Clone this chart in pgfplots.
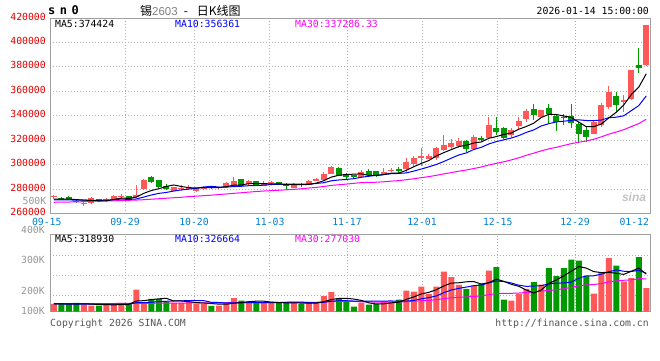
\documentclass[border=0pt]{standalone}
\usepackage{pgfplots}
\pgfplotsset{compat=1.18}
\usepackage{pgfplotstable}
\usepackage{fontspec}
\setmainfont{DejaVu Sans Mono}
\newfontfamily\cjk{Noto Sans CJK SC}
\newfontfamily\lsans{Liberation Sans}
\definecolor{cred}{RGB}{255,88,88}
\definecolor{cgreen}{RGB}{0,153,0}
\definecolor{gridc}{RGB}{175,175,175}
\definecolor{framec}{RGB}{160,160,160}
\definecolor{ylab}{RGB}{225,0,0}
\definecolor{xlab}{RGB}{0,128,210}
\definecolor{vlab}{RGB}{150,150,150}
\definecolor{cmag}{RGB}{255,0,255}
\definecolor{cblue}{RGB}{0,0,255}
\definecolor{foot}{RGB}{85,85,85}
\newcommand{\tf}{\fontsize{9.8}{10}\selectfont}

\pgfplotstableread{
i O H L C
0 273470 275350 272080 274040
4 268000 269630 266370 268570
5 268330 273220 268160 272410
7 270780 272410 269630 271840
8 272080 274860 271590 274290
9 273470 275670 272080 274530
11 273470 283260 273060 275350
12 279750 287920 279590 287350
16 278610 282040 278370 281630
17 280240 283020 278610 281060
18 279750 283510 279180 281060
19 278370 281220 277550 280570
20 280000 282690 279590 281880
22 280570 281880 280240 281630
23 281390 285470 280570 284650
24 282690 290040 282450 286770
26 283840 287350 283510 286290
28 282690 286530 282450 284080
29 284650 286770 283510 285710
32 281060 283510 280820 283260
34 283260 287100 283020 286770
35 286770 289220 286290 288410
36 287590 293630 286770 292490
37 292490 299020 292240 297960
41 290040 295510 289800 293880
44 291430 296900 291180 293630
45 294450 297390 293630 295510
47 296330 305550 293630 302280
48 300160 306690 299020 305550
49 305060 313710 299020 307180
50 304490 308320 304240 307180
51 305060 314530 303670 313220
52 311840 324080 311430 315920
53 314040 320570 312650 317790
54 315100 321390 313220 319750
56 312650 324080 311840 322690
58 321880 339020 321630 332810
61 324650 330040 321390 328160
62 331430 339020 328160 335750
63 337710 345880 334940 343920
65 339020 344490 339020 344490
72 325470 335750 325470 334940
73 332240 350450 330860 348570
74 347180 364080 345880 359430
76 351260 356730 343100 352650
77 354040 377710 353220 377140
79 381220 414000 380810 413870
}\upc

\pgfplotstableread{
i O H L C
1 272900 273710 271270 271590
2 273470 274530 271430 271590
3 270450 271020 268570 269140
6 271590 271840 269140 270200
10 274040 274290 269960 271020
13 290040 290860 284650 285710
14 287350 287750 281060 281880
15 282690 284330 278940 280240
21 282450 282690 280240 281060
25 287920 288160 281630 282690
27 286530 286530 282200 282450
30 285470 285710 283020 283260
31 283260 284900 278940 282450
33 284330 285140 281880 283260
38 297390 297710 290610 290860
39 292240 292820 287920 290040
40 291430 291670 289220 289550
42 294690 296330 290040 291430
43 294690 294690 289800 290610
46 296330 297960 293300 294450
55 319180 320000 310450 312410
57 322200 323830 319590 320000
59 330040 339020 324080 326770
60 329790 330860 320570 321390
64 345300 349390 336320 340410
66 346120 349960 333630 341220
67 339830 341220 327350 334940
68 339020 341790 332240 338200
69 339590 349960 330370 334120
70 333630 334940 317300 325470
71 328160 330860 318610 322690
75 355920 359430 343100 348570
78 381470 395340 374940 379340
}\downc

\pgfplotstableread{
i ma5 ma10 ma30
0 271800 271200 269200
1 271800 271200 269300
2 271800 271100 269400
3 271400 271000 269500
4 270986 270900 269700
5 270660 270800 270000
6 270382 270800 270200
7 270432 270900 270300
8 271462 271200 270400
9 272654 271820 270600
10 272376 271518 270800
11 273406 271894 271000
12 276508 273470 271300
13 278792 275127 271700
14 280262 276458 272100
15 282106 277241 272500
16 283362 278384 272900
17 282104 279306 273300
18 281174 279983 273800
19 280912 280587 274200
20 281240 281673 274600
21 281126 282244 275000
22 281240 281672 275500
23 281958 281566 276000
24 283198 282055 276500
25 283360 282300 277000
26 284406 282766 277500
27 284570 282905 278000
28 284456 283207 278400
29 284244 283721 278709
30 284358 283859 279017
31 283590 283998 279379
32 283752 284161 279768
33 283588 284022 280238
34 283800 284022 280845
35 284830 284594 281378
36 286838 285214 282121
37 289778 286765 282992
38 291298 287443 283544
39 291952 287876 284061
40 292180 288505 284679
41 292458 289648 285297
42 291152 290465 285433
43 291102 291200 285596
44 291820 291886 285988
45 293012 292596 286497
46 293126 292792 286924
47 295296 293224 287631
48 298284 294693 288448
49 300994 296407 289335
50 303328 298170 290178
51 307082 300104 291250
52 309810 302553 292393
53 312258 305271 293498
54 314772 307883 294597
55 315818 309573 295588
56 317712 312397 296801
57 318528 314169 298053
58 321532 316895 299677
59 322936 318854 301046
60 324732 320275 302317
61 325826 321769 303840
62 328976 323752 305590
63 331198 326365 307612
64 333926 328431 309400
65 338546 331639 311269
66 341158 333492 312894
67 340996 334986 314126
68 339852 335525 315704
69 338594 336260 317174
70 334790 336668 318371
71 331084 336121 319331
72 331084 336040 320782
73 333158 336505 322714
74 338220 338407 324907
75 342840 338815 326676
76 348832 339958 328616
77 357272 344178 331111
78 363426 348292 333571
79 374314 356267 337127
}\mamain

\pgfplotstableread{
i V
0 65160
4 59490
5 50990
7 56660
8 65160
9 73660
11 186980
12 73660
16 73660
17 73660
18 79320
19 67990
20 67990
22 50990
23 73660
24 113320
26 84990
28 73660
29 73660
32 73660
34 73660
35 73660
36 130320
37 164310
41 73660
44 84990
45 84990
47 178480
48 169980
49 212480
50 150150
51 212480
52 339960
53 291800
54 226640
56 220970
58 348460
61 93490
62 150150
63 192640
65 229470
72 152980
73 325800
74 453280
76 254970
77 283300
79 198310
}\volup

\pgfplotstableread{
i V
1 65160
2 65160
3 73660
6 50990
10 62330
13 107650
14 107650
15 84990
21 48160
25 93490
27 73660
30 73660
31 73660
33 65160
38 113320
39 79320
40 42500
42 59490
43 65160
46 101990
55 192640
57 235140
59 376790
60 101990
64 249300
66 368290
67 300300
68 368290
69 441950
70 433450
71 300300
75 390950
78 461780
}\voldown

\pgfplotstableread{
i ma5 ma10 ma30
0 65000 64000 66000
1 65000 64000 66300
2 65000 63500 66600
3 65000 63000 66800
4 65726 62500 67000
5 62892 62000 67200
6 60058 62000 67500
7 58358 62300 67700
8 56658 62500 68000
9 59492 62609 68400
10 61760 62326 68800
11 88958 74508 69200
12 92358 75358 69600
13 100856 78757 70000
14 107654 83573 70500
15 112186 86973 71000
16 89522 89240 71500
17 89522 90940 72000
18 83856 92356 72400
19 75924 91789 72800
20 72524 92355 73200
21 67424 78473 73600
22 62890 76206 74000
23 61758 72807 74400
24 70824 73374 74800
25 75924 74224 75200
26 83290 75357 75600
27 87824 75357 76000
28 87824 74791 76300
29 79892 75358 76585
30 75926 75925 76869
31 73660 78475 77152
32 73660 80742 77435
33 71960 79892 77152
34 71960 75926 77624
35 71960 73943 78380
36 83292 78476 81024
37 101422 87541 84613
38 111054 91507 86218
39 112186 92073 86407
40 105954 88957 85746
41 94622 88957 81968
42 73658 87540 81496
43 64026 87540 80080
44 65160 88673 79324
45 73658 89806 79324
46 79324 86973 80269
47 103122 88390 83763
48 124086 94056 86785
49 149584 107372 91601
50 162616 118137 94340
51 184714 132019 99817
52 217010 160066 109449
53 241374 182730 116721
54 244206 196895 120498
55 252704 207660 123803
56 254402 219558 128336
57 233438 225224 133718
58 244770 243072 142878
59 274800 259503 152983
60 256670 254687 153927
61 231174 242788 154588
62 214176 223807 157138
63 183012 213891 161387
64 157514 216157 167242
65 183010 219840 172435
66 237970 234572 180368
67 268000 241088 184901
68 303130 243071 193400
69 341660 249587 205487
70 382456 282733 218519
71 368858 303414 226074
72 339394 303697 229190
73 330896 317013 237878
74 333162 337411 250154
75 324662 353559 260353
76 315596 342227 265452
77 341660 340527 268946
78 368856 349876 278673
79 317862 325512 278201
}\mavol

\begin{document}
\begin{tikzpicture}
\useasboundingbox (0pt,0pt) rectangle (660pt,-360pt);

% ---------- main candlestick panel ----------
\begin{axis}[
  at={(50pt,-18pt)}, anchor=north west,
  scale only axis, width=600pt, height=195.5pt,
  xmin=-0.5, xmax=79.5, ymin=260000, ymax=420000,
  scaled y ticks=false, scaled x ticks=false,
  axis line style={framec, line width=1pt},
  major tick length=0pt, tick style={draw=none},
  xtick={9.5,18.7,28.8,39.1,49.1,59.2,69.5},
  xticklabels={09-29,10-20,11-03,11-17,12-01,12-15,12-29},
  extra x ticks={77.4}, extra x tick labels={01-12},
  extra x tick style={grid=none},
  xticklabel style={font=\tf, text=xlab, anchor=center, inner sep=0pt, yshift=-8pt},
  ytick={260000,280000,300000,320000,340000,360000,380000,400000,420000},
  yticklabels={260000,280000,300000,320000,340000,360000,380000,400000,420000},
  yticklabel style={font=\tf, text=ylab, anchor=east, inner sep=0pt, xshift=-4pt, yshift=1.5pt},
  xmajorgrids, ymajorgrids,
  grid style={gridc, dash pattern=on 1pt off 2pt, line width=0.8pt},
]
% wicks
\addplot[draw=none, mark=none, forget plot, error bars/.cd, y dir=plus, y explicit, error mark=none,
  error bar style={draw=cred, line width=1pt}]
  table[x=i, y=L, y error plus expr=\thisrow{H}-\thisrow{L}] {\upc};
\addplot[draw=none, mark=none, forget plot, error bars/.cd, y dir=plus, y explicit, error mark=none,
  error bar style={draw=cgreen, line width=1pt}]
  table[x=i, y=L, y error plus expr=\thisrow{H}-\thisrow{L}] {\downc};
% bodies
\addplot[draw=none, mark=none, forget plot, error bars/.cd, y dir=plus, y explicit, error mark=none,
  error bar style={draw=cred, line width=6pt}]
  table[x=i, y=O, y error plus expr=\thisrow{C}-\thisrow{O}] {\upc};
\addplot[draw=none, mark=none, forget plot, error bars/.cd, y dir=plus, y explicit, error mark=none,
  error bar style={draw=cgreen, line width=6pt}]
  table[x=i, y=C, y error plus expr=\thisrow{O}-\thisrow{C}] {\downc};
% moving averages
\addplot[cmag, line width=1pt, mark=none] table[x=i, y=ma30] {\mamain};
\addplot[cblue, line width=1pt, mark=none] table[x=i, y=ma10] {\mamain};
\addplot[black, line width=1pt, mark=none] table[x=i, y=ma5] {\mamain};
\end{axis}

% ---------- volume panel ----------
\begin{axis}[
  at={(50pt,-234pt)}, anchor=north west,
  scale only axis, width=600pt, height=77.5pt,
  xmin=-0.5, xmax=79.5, ymin=0, ymax=658750,
  scaled y ticks=false, scaled x ticks=false,
  axis line style={framec, line width=1pt},
  major tick length=0pt, tick style={draw=none},
  xtick={9.5,18.7,28.8,39.1,49.1,59.2,69.5},
  xticklabels={},
  ytick={140250,310250,480250},
  yticklabels={,,},
  extra y ticks={4250,176800,437750},
  extra y tick labels={100K,200K,300K},
  extra y tick style={grid=none},
  yticklabel style={font=\tf, text=vlab, anchor=east, inner sep=0pt, xshift=-5pt},
  xmajorgrids, ymajorgrids,
  grid style={gridc, dash pattern=on 1pt off 2pt, line width=0.8pt},
]
\addplot[ybar, bar width=6pt, bar shift=0pt, fill=cred, draw=none, forget plot] table[x=i, y=V] {\volup};
\addplot[ybar, bar width=6pt, bar shift=0pt, fill=cgreen, draw=none, forget plot] table[x=i, y=V] {\voldown};
\addplot[cmag, line width=1pt, mark=none] table[x=i, y=ma30] {\mavol};
\addplot[cblue, line width=1pt, mark=none] table[x=i, y=ma10] {\mavol};
\addplot[black, line width=1pt, mark=none] table[x=i, y=ma5] {\mavol};
\end{axis}

% ---------- texts ----------
\node[anchor=west, inner sep=0pt, font=\bfseries\fontsize{12}{12}\selectfont] at (48pt,-10.5pt) {s\hspace{4.5pt}n\hspace{4.5pt}0};
\node[anchor=west, inner sep=0pt] at (140pt,-10.5pt) {\cjk\fontsize{12}{12}\selectfont 锡{\lsans\fontsize{11.5}{12}\selectfont\color{gray}2603}\hspace{6pt}-\hspace{9pt}日K线图};
\node[anchor=east, inner sep=0pt, font=\tf] at (649pt,-11.3pt) {2026-01-14 15:00:00};

\node[anchor=west, inner sep=0pt, font=\tf] at (55pt,-24pt) {MA5:374424};
\node[anchor=west, inner sep=0pt, font=\tf, text=cblue] at (175pt,-24pt) {MA10:356361};
\node[anchor=west, inner sep=0pt, font=\tf, text=cmag] at (295pt,-24pt) {MA30:337286.33};

\node[anchor=west, inner sep=0pt, font=\tf] at (55pt,-239pt) {MA5:318930};
\node[anchor=west, inner sep=0pt, font=\tf, text=cblue] at (175pt,-239pt) {MA10:326664};
\node[anchor=west, inner sep=0pt, font=\tf, text=cmag] at (295pt,-239pt) {MA30:277030};

\node[anchor=center, inner sep=0pt, font=\tf, text=xlab] at (46.8pt,-221.5pt) {09-15};
\node[anchor=east, inner sep=0pt, font=\tf, text=vlab] at (46.5pt,-200.7pt) {500K};
\node[anchor=east, inner sep=0pt, font=\tf, text=vlab] at (45pt,-230pt) {400K};

\node[anchor=center, inner sep=0pt, text={rgb,255:red,195;green,195;blue,195}] at (634pt,-197pt) {\lsans\bfseries\itshape\fontsize{12}{12}\selectfont sina};

\node[anchor=west, inner sep=0pt, font=\tf, text=foot] at (50pt,-324pt) {Copyright 2026 SINA.COM};
\node[anchor=east, inner sep=0pt, font=\tf, text=foot] at (649pt,-324pt) {http://finance.sina.com.cn};
\end{tikzpicture}
\end{document}
